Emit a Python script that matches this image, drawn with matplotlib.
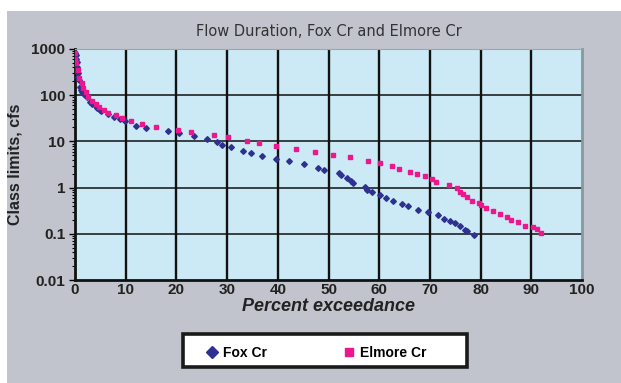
import matplotlib
matplotlib.use("Agg")
import matplotlib.pyplot as plt
from matplotlib.patches import Rectangle

# Fox Cr flow duration (percent exceedance, class limit cfs)
fox_pct = [0.0, 0.1, 0.2, 0.3, 0.35, 0.45, 0.55, 0.65, 0.8, 1.0, 1.2, 1.4, 1.7, 2.0, 2.3,
           3.0, 3.4, 3.9, 4.3, 4.9, 5.1, 6.6, 7.6, 8.9, 9.9, 12.0, 14.0, 18.3, 20.6,
           23.5, 26.0, 28.0, 28.9, 30.7, 33.1, 34.8, 36.8, 39.6, 42.2, 45.2, 48.0,
           49.2, 52.1, 52.5, 53.6, 54.4, 54.9, 57.2, 57.5, 58.6, 60.2, 61.3, 62.7,
           64.4, 65.7, 67.7, 69.7, 71.5, 72.8, 74.0, 75.0, 75.9, 76.9, 77.4, 78.7]
fox_cfs = [800, 740, 620, 520, 415, 340, 295, 250, 215, 150, 130, 118, 105, 100, 93,
           72, 66, 61, 54, 47, 46, 40, 34, 30, 27, 21.5, 19.5, 16.8, 15,
           13.3, 11.5, 9.6, 8.5, 7.4, 6.3, 5.5, 4.9, 4.2, 3.7, 3.2, 2.7,
           2.45, 2.05, 1.87, 1.64, 1.39, 1.26, 1.05, 0.89, 0.79, 0.69, 0.60, 0.51,
           0.44, 0.39, 0.33, 0.29, 0.26, 0.21, 0.19, 0.17, 0.15, 0.12, 0.115, 0.093]

# Elmore Cr flow duration
elm_pct = [0.0, 0.0, 0.1, 0.5, 0.85, 1.3, 1.6, 2.2, 2.6, 3.3, 4.1, 4.7, 5.7, 6.6, 8.0,
           9.2, 11.0, 13.3, 16.0, 20.3, 22.8, 27.4, 30.1, 34.0, 36.3, 39.6, 43.6,
           47.3, 50.8, 54.2, 57.7, 60.2, 62.5, 64.0, 66.0, 67.4, 69.0, 70.5, 71.3,
           73.8, 75.3, 75.9, 76.6, 77.4, 78.4, 79.7, 80.1, 81.1, 82.5, 83.8, 85.3,
           86.0, 87.4, 88.8, 90.4, 91.2, 92.0]
elm_cfs = [810, 600, 490, 355, 233, 182, 145, 120, 93, 74, 63, 55, 48, 42, 37,
           32, 28, 24, 21, 17.7, 16, 14, 12.3, 10.2, 9.1, 8.1, 6.9,
           5.9, 5.1, 4.7, 3.8, 3.4, 3.0, 2.5, 2.2, 1.95, 1.76, 1.51, 1.30,
           1.12, 0.98, 0.81, 0.72, 0.63, 0.52, 0.46, 0.42, 0.36, 0.31, 0.27, 0.23,
           0.20, 0.18, 0.15, 0.14, 0.126, 0.103]

x_ticks = [0, 10, 20, 30, 40, 50, 60, 70, 80, 90, 100]
y_ticks = [0.01, 0.1, 1, 10, 100, 1000]
y_labels = ["0.01", "0.1", "1", "10", "100", "1000"]

bold_font = ["Liberation Sans Narrow", "Liberation Sans", "DejaVu Sans"]
blue = "#2e3192"
pink = "#ec178c"

fig = plt.figure(figsize=(6.21, 3.83), dpi=100)
fig.patch.set_facecolor("white")
fig.patches.append(Rectangle((7 / 621, 0), 1, 1 - 11 / 383, transform=fig.transFigure,
                             facecolor="#c1c4cc", edgecolor="none", zorder=-10))

ax = fig.add_axes([75 / 621, 103 / 383, 507 / 621, 231 / 383])
ax.set_facecolor("#cceaf5")
ax.set_yscale("log")
ax.set_xlim(0, 100)
ax.set_ylim(0.01, 1000)

for xv in x_ticks[1:-1]:
    ax.axvline(xv, color="#111111", lw=1.7, zorder=1)
for yv in y_ticks[1:-1]:
    ax.axhline(yv, color="#111111", lw=1.1, zorder=1)

ax.plot(fox_pct, fox_cfs, "D", color=blue, ms=2.9, mec=blue, label="Fox Cr", zorder=3)
ax.plot(elm_pct, elm_cfs, "s", color=pink, ms=2.9, mec=pink, label="Elmore Cr", zorder=4)

ax.set_xticks(x_ticks)
ax.set_yticks(y_ticks)
ax.set_yticklabels(y_labels)
for lab in ax.get_xticklabels() + ax.get_yticklabels():
    lab.set_family(bold_font)
    lab.set_fontweight("bold")
    lab.set_fontsize(11)
    lab.set_color("#222222")
ax.tick_params(axis="x", length=0, pad=2)
ax.tick_params(axis="y", which="major", length=4, width=1, pad=3, direction="out")
ax.tick_params(axis="y", which="minor", length=2.5, width=0.8, direction="out")
ax.tick_params(axis="x", which="minor", length=0)

for side in ["left", "bottom"]:
    ax.spines[side].set_color("#111111")
    ax.spines[side].set_linewidth(2)
ax.spines["right"].set_color("#8898a0")
ax.spines["right"].set_linewidth(2)
ax.spines["top"].set_color("#9aa6ae")
ax.spines["top"].set_linewidth(0.8)

ax.set_title("Flow Duration, Fox Cr and Elmore Cr", fontsize=10.5, color="#333333",
             family=["Liberation Sans Narrow", "DejaVu Sans"], pad=9)
ax.set_xlabel("Percent exceedance", fontsize=13, fontweight="bold", style="italic",
              family=["Liberation Sans", "DejaVu Sans"], color="#222222", labelpad=1)
ax.set_ylabel("Class limits, cfs", fontsize=11.5, fontweight="bold",
              family=["Liberation Sans", "DejaVu Sans"], color="#222222", labelpad=6)

# legend box
fig.patches.append(Rectangle((183 / 621, (383 - 367) / 383), 284 / 621, 33 / 383,
                             transform=fig.transFigure, facecolor="white",
                             edgecolor="#1a1a1a", lw=2.6, zorder=5))
leg = fig.legend(loc="center", bbox_to_anchor=(316 / 621, (383 - 353) / 383), ncol=2,
                 frameon=False, columnspacing=5.4, handletextpad=0.3, handlelength=1.0,
                 markerscale=2.2, prop={"family": bold_font, "weight": "bold", "size": 10})
leg.set_zorder(6)

fig.savefig("out.png", dpi=100)
